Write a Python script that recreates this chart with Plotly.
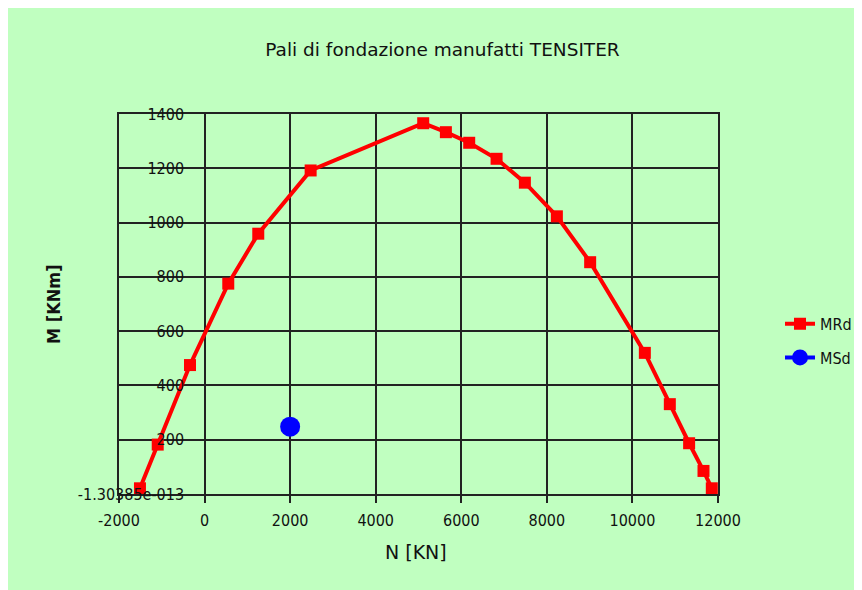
import plotly.graph_objects as go

# Data
n_mrd = [-1510, -1095, -341, 554, 1255, 2479, 5110, 5640, 6185, 6825, 7486, 8234,
         9012, 10290, 10874, 11325, 11661, 11855]
m_mrd = [21, 182, 475, 775, 959, 1192, 1366, 1333, 1294, 1235, 1147, 1023,
         854, 520, 331, 187, 85, 21]
n_msd = [2000]
m_msd = [248]

x_ticks = [-2000, 0, 2000, 4000, 6000, 8000, 10000, 12000]
x_tick_text = ["-2000", "0", "2000", "4000", "6000", "8000", "10000", "12000"]
y_ticks = [0, 200, 400, 600, 800, 1000, 1200, 1400]
y_tick_text = ["-1.30385e-013", "200", "400", "600", "800", "1000", "1200", "1400"]

W, H = 854, 582
GREEN = "#C0FFC0"
FONT = "DejaVu Sans Condensed, Liberation Sans, Arial, sans-serif"
FONT_W = "DejaVu Sans, Liberation Sans, Arial, sans-serif"
TXT = "#111"

# plot area in figure pixels (the page adds an 8 px offset)
l, r, t, b = 111, W - 710, 106, H - 486.5
pw, ph = W - l - r, H - t - b

fig = go.Figure()
fig.add_trace(go.Scatter(
    x=n_mrd, y=m_mrd, name="MRd", mode="lines+markers",
    line=dict(color="#FF0000", width=4),
    marker=dict(symbol="square", size=12, color="#FF0000"),
    legendgroup="a", cliponaxis=False,
))
fig.add_trace(go.Scatter(
    x=n_msd, y=m_msd, name="MSd", mode="lines+markers",
    line=dict(color="#0000FF", width=4),
    marker=dict(symbol="circle", size=20, color="#0000FF"),
    legendgroup="b", cliponaxis=False,
))

fig.update_layout(
    width=W, height=H,
    margin=dict(l=l, r=r, t=t, b=b, pad=0, autoexpand=False),
    paper_bgcolor=GREEN,
    plot_bgcolor=GREEN,
    font=dict(family=FONT, size=16, color=TXT),
    title=dict(text="Pali di fondazione manufatti TENSITER", x=434.5 / W, xref="container",
               xanchor="center", y=1 - 42 / H, yref="container", yanchor="middle",
               font=dict(size=18.5, family=FONT_W, color=TXT)),
    showlegend=True,
    legend=dict(x=(772 - l) / pw, xanchor="left", y=1 - (299 - t) / ph,
                yanchor="top", bgcolor="rgba(0,0,0,0)", font=dict(size=16),
                traceorder="grouped", tracegroupgap=10, itemsizing="trace"),
    annotations=[
        dict(text="N [KN]", x=(408 - l) / pw, xref="paper", y=0, yref="paper", showarrow=False,
             xanchor="center", yanchor="middle", yshift=-57.5,
             font=dict(size=19, family=FONT_W, color=TXT)),
        dict(text="<b>M [KNm]</b>", x=0, xref="paper", y=0.5, yref="paper", showarrow=False,
             textangle=-90, xanchor="center", yanchor="middle",
             xshift=-66, yshift=0,
             font=dict(size=18, family=FONT, color=TXT)),
    ],
)

fig.update_xaxes(
    range=[-2000, 12000], tickvals=x_ticks, ticktext=x_tick_text,
    ticks="outside", ticklen=7, tickcolor="#222",
    tickwidth=1.5, showgrid=True, gridcolor="#222", gridwidth=1.5, zeroline=False,
    showline=True, linecolor="#222", linewidth=1.5, mirror=True,
    tickfont=dict(size=16, color=TXT), ticklabelstandoff=4,
)
fig.update_yaxes(
    range=[0, 1400], tickvals=y_ticks, ticktext=y_tick_text, ticks="",
    showgrid=True, gridcolor="#222", gridwidth=1.5, zeroline=False,
    showline=True, linecolor="#222", linewidth=1.5, mirror=True,
    tickfont=dict(size=16, color=TXT), ticklabelstandoff=-70,
)

fig.write_html("out.html")
